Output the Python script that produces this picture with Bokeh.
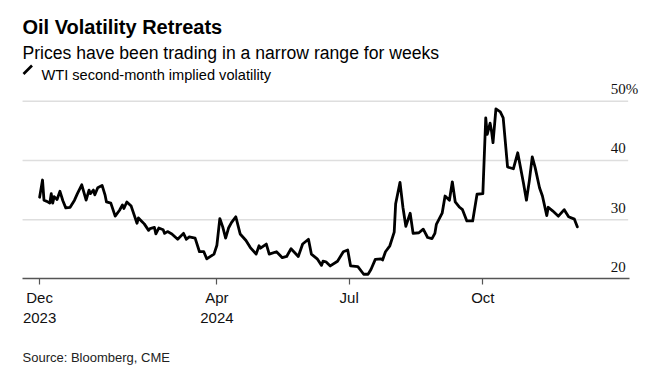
from datetime import datetime
import pandas as pd
from bokeh.plotting import figure
from bokeh.models import (Range1d, FixedTicker, Label, LabelSet,
                          ColumnDataSource, PolyAnnotation)
from bokeh.embed import file_html
from bokeh.resources import INLINE

# ---------------- data ----------------
dates = [
    "2023-12-01", "2023-12-03", "2023-12-04", "2023-12-06", "2023-12-08", "2023-12-09",
    "2023-12-10", "2023-12-11", "2023-12-13", "2023-12-15", "2023-12-17", "2023-12-19",
    "2023-12-22", "2023-12-25", "2023-12-27", "2023-12-30",
    "2024-01-02", "2024-01-04", "2024-01-05", "2024-01-07", "2024-01-08", "2024-01-10",
    "2024-01-13", "2024-01-15", "2024-01-16", "2024-01-19", "2024-01-22", "2024-01-25",
    "2024-01-27", "2024-01-28", "2024-01-30",
    "2024-02-02", "2024-02-06", "2024-02-07", "2024-02-09", "2024-02-11", "2024-02-14",
    "2024-02-15", "2024-02-18", "2024-02-19", "2024-02-21", "2024-02-24", "2024-02-25",
    "2024-02-27",
    "2024-03-01", "2024-03-05", "2024-03-09", "2024-03-11", "2024-03-13", "2024-03-17",
    "2024-03-20", "2024-03-23", "2024-03-25", "2024-03-30",
    "2024-04-01", "2024-04-03", "2024-04-05", "2024-04-07", "2024-04-09", "2024-04-11",
    "2024-04-14", "2024-04-17", "2024-04-21", "2024-04-24", "2024-04-28", "2024-04-30",
    "2024-05-01", "2024-05-05", "2024-05-07", "2024-05-12", "2024-05-16", "2024-05-19",
    "2024-05-22", "2024-05-27", "2024-05-30",
    "2024-06-03", "2024-06-05", "2024-06-09", "2024-06-12", "2024-06-13", "2024-06-15",
    "2024-06-18", "2024-06-23", "2024-06-27", "2024-06-30",
    "2024-07-02", "2024-07-07", "2024-07-11", "2024-07-14", "2024-07-16", "2024-07-19",
    "2024-07-23", "2024-07-24", "2024-07-26", "2024-07-29",
    "2024-08-01", "2024-08-02", "2024-08-05", "2024-08-07", "2024-08-09", "2024-08-12",
    "2024-08-14", "2024-08-18", "2024-08-21", "2024-08-24", "2024-08-27", "2024-08-29",
    "2024-08-30",
    "2024-09-03", "2024-09-05", "2024-09-08", "2024-09-10", "2024-09-12", "2024-09-15",
    "2024-09-17", "2024-09-20", "2024-09-24", "2024-09-27",
    "2024-10-01", "2024-10-03", "2024-10-04", "2024-10-06", "2024-10-07", "2024-10-08",
    "2024-10-10", "2024-10-13", "2024-10-15", "2024-10-18", "2024-10-22", "2024-10-24",
    "2024-10-25", "2024-10-29", "2024-10-31",
    "2024-11-02", "2024-11-04", "2024-11-06", "2024-11-09", "2024-11-11", "2024-11-14",
    "2024-11-15", "2024-11-18", "2024-11-22", "2024-11-26", "2024-11-29",
    "2024-12-03", "2024-12-05",
]
wti_implied_vol = [
    33.8, 36.7, 33.3, 33.1, 32.8, 34.4,
    32.8, 33.9, 33.4, 34.8, 33.2, 32.0,
    32.1, 33.3, 34.4, 35.9,
    33.3, 35.0, 34.4, 35.0, 34.2, 35.4,
    35.8, 34.2, 33.0, 32.8, 30.6, 31.6,
    32.5, 31.9, 33.0,
    32.3, 29.4, 30.3, 29.8, 29.3, 28.2,
    28.5, 28.7, 27.6, 28.6, 28.3, 27.7,
    28.0,
    27.6, 26.7, 27.7, 26.7, 27.1, 26.9,
    24.6, 24.6, 23.4, 24.2,
    25.7, 30.2, 28.8, 26.9, 28.6, 29.5,
    30.5, 27.6, 26.5, 25.3, 24.2, 25.6,
    25.2, 25.9, 24.2, 24.6, 23.6, 23.8,
    25.1, 23.8, 25.9,
    26.7, 24.2, 23.4, 22.3, 23.0, 22.9,
    22.2, 23.0, 24.6, 24.9,
    22.2, 22.1, 20.8, 20.8, 21.6, 23.3,
    23.4, 23.2, 24.6, 25.6,
    27.9, 32.7, 36.3, 32.1, 28.9, 31.1,
    27.7, 27.8, 28.4, 27.0, 26.8, 27.7,
    29.2,
    31.1, 34.0, 33.3, 36.4, 33.0, 32.1,
    31.7, 29.8, 29.8, 34.3,
    34.4, 47.2, 44.4, 46.3, 44.9, 43.0,
    48.7, 48.2, 47.2, 38.9, 38.6, 40.4,
    41.3, 36.1, 33.3,
    36.6, 40.6, 38.8, 35.4, 34.0, 30.7,
    32.1, 31.5, 30.6, 31.7, 30.5,
    30.1, 28.8,
]
xtick_dates = ["2023-12-01", "2024-04-01", "2024-07-01", "2024-10-01"]
xtick_labels = ["Dec\n2023", "Apr\n2024", "Jul", "Oct"]
ytick_values = [20, 30, 40, 50]
ytick_labels = ["20", "30", "40", "50%"]

title_text = "Oil Volatility Retreats"
subtitle_text = "Prices have been trading in a narrow range for weeks"
legend_text = "WTI second-month implied volatility"
source_text = "Source: Bloomberg, CME"

FONT = "Liberation Sans"

# plot-area extent (layout, not data)
area_left = pd.Timestamp("2023-11-19 06:00")
grid_right = pd.Timestamp("2025-01-09 00:00")
axis_right = pd.Timestamp("2025-01-09 22:00")

# ---------------- figure ----------------
src = ColumnDataSource(dict(date=pd.to_datetime(dates), vol=wti_implied_vol))

p = figure(width=660, height=375, x_axis_type="datetime", y_axis_location=None,
           x_range=Range1d(datetime(2023, 11, 4, 2), datetime(2025, 1, 31, 6)),
           y_range=Range1d(3.71, 67.0),
           output_backend="svg", toolbar_location=None,
           min_border_left=0, min_border_right=0, min_border_top=0, min_border_bottom=0)
p.outline_line_color = None
p.title.visible = False
p.xgrid.visible = False
p.ygrid.visible = False
p.background_fill_color = "white"
p.border_fill_color = "white"

# horizontal gridlines at the y tick values
grid_vals = ytick_values[1:]
p.segment(x0=[area_left] * len(grid_vals), x1=[grid_right] * len(grid_vals),
          y0=grid_vals, y1=grid_vals, line_color="#dedede", line_width=1.5)

p.line(x="date", y="vol", source=src, line_color="black", line_width=2.8,
       line_join="round", line_cap="round")

# x axis, drawn at y = 20
xtick_ms = [int(pd.Timestamp(d).value // 10**6) for d in xtick_dates]
ax = p.xaxis[0]
ax.fixed_location = ytick_values[0]
ax.bounds = (area_left.value // 10**6, axis_right.value // 10**6)
ax.ticker = FixedTicker(ticks=xtick_ms)
ax.major_label_overrides = dict(zip(xtick_ms, xtick_labels))
ax.axis_line_color = "#555555"
ax.axis_line_width = 1.5
ax.major_tick_line_color = "#555555"
ax.major_tick_line_width = 1.2
ax.major_tick_out = 6
ax.major_tick_in = 0
ax.minor_tick_line_color = None
ax.major_label_standoff = 4
ax.major_label_text_font = FONT
ax.major_label_text_font_size = "15px"
ax.major_label_text_color = "#111111"

# y labels (right side, above gridlines); two-digit numbers end at the grid's right edge
ysrc = ColumnDataSource(dict(y=ytick_values, t=ytick_labels))
p.add_layout(LabelSet(x=610.3, y="y", text="t", source=ysrc, x_units="screen",
                      text_align="left", text_baseline="alphabetic", y_offset=7,
                      text_font=FONT, text_font_size="15px", text_color="#111111"))

# titles (screen units measured from the bottom of the canvas)
p.add_layout(Label(x=22, y=348.5, x_units="screen", y_units="screen", text=title_text,
                   text_font=FONT, text_font_style="bold", text_font_size="20px",
                   text_color="black", text_baseline="alphabetic"))
p.add_layout(Label(x=22, y=323, x_units="screen", y_units="screen", text=subtitle_text,
                   text_font=FONT, text_font_size="17.6px",
                   text_color="black", text_baseline="alphabetic"))
p.add_layout(Label(x=41, y=301, x_units="screen", y_units="screen", text=legend_text,
                   text_font=FONT, text_font_size="14.6px",
                   text_color="black", text_baseline="alphabetic"))
p.add_layout(PolyAnnotation(xs=[23, 31.5], ys=[301.5, 310], xs_units="screen", ys_units="screen",
                            line_color="black", line_alpha=1.0, line_width=2.6,
                            fill_alpha=0))
p.add_layout(Label(x=22, y=18, x_units="screen", y_units="screen", text=source_text,
                   text_font=FONT, text_font_size="13px",
                   text_color="#222222", text_baseline="alphabetic"))

open("out.html", "w").write(file_html(p, INLINE))
